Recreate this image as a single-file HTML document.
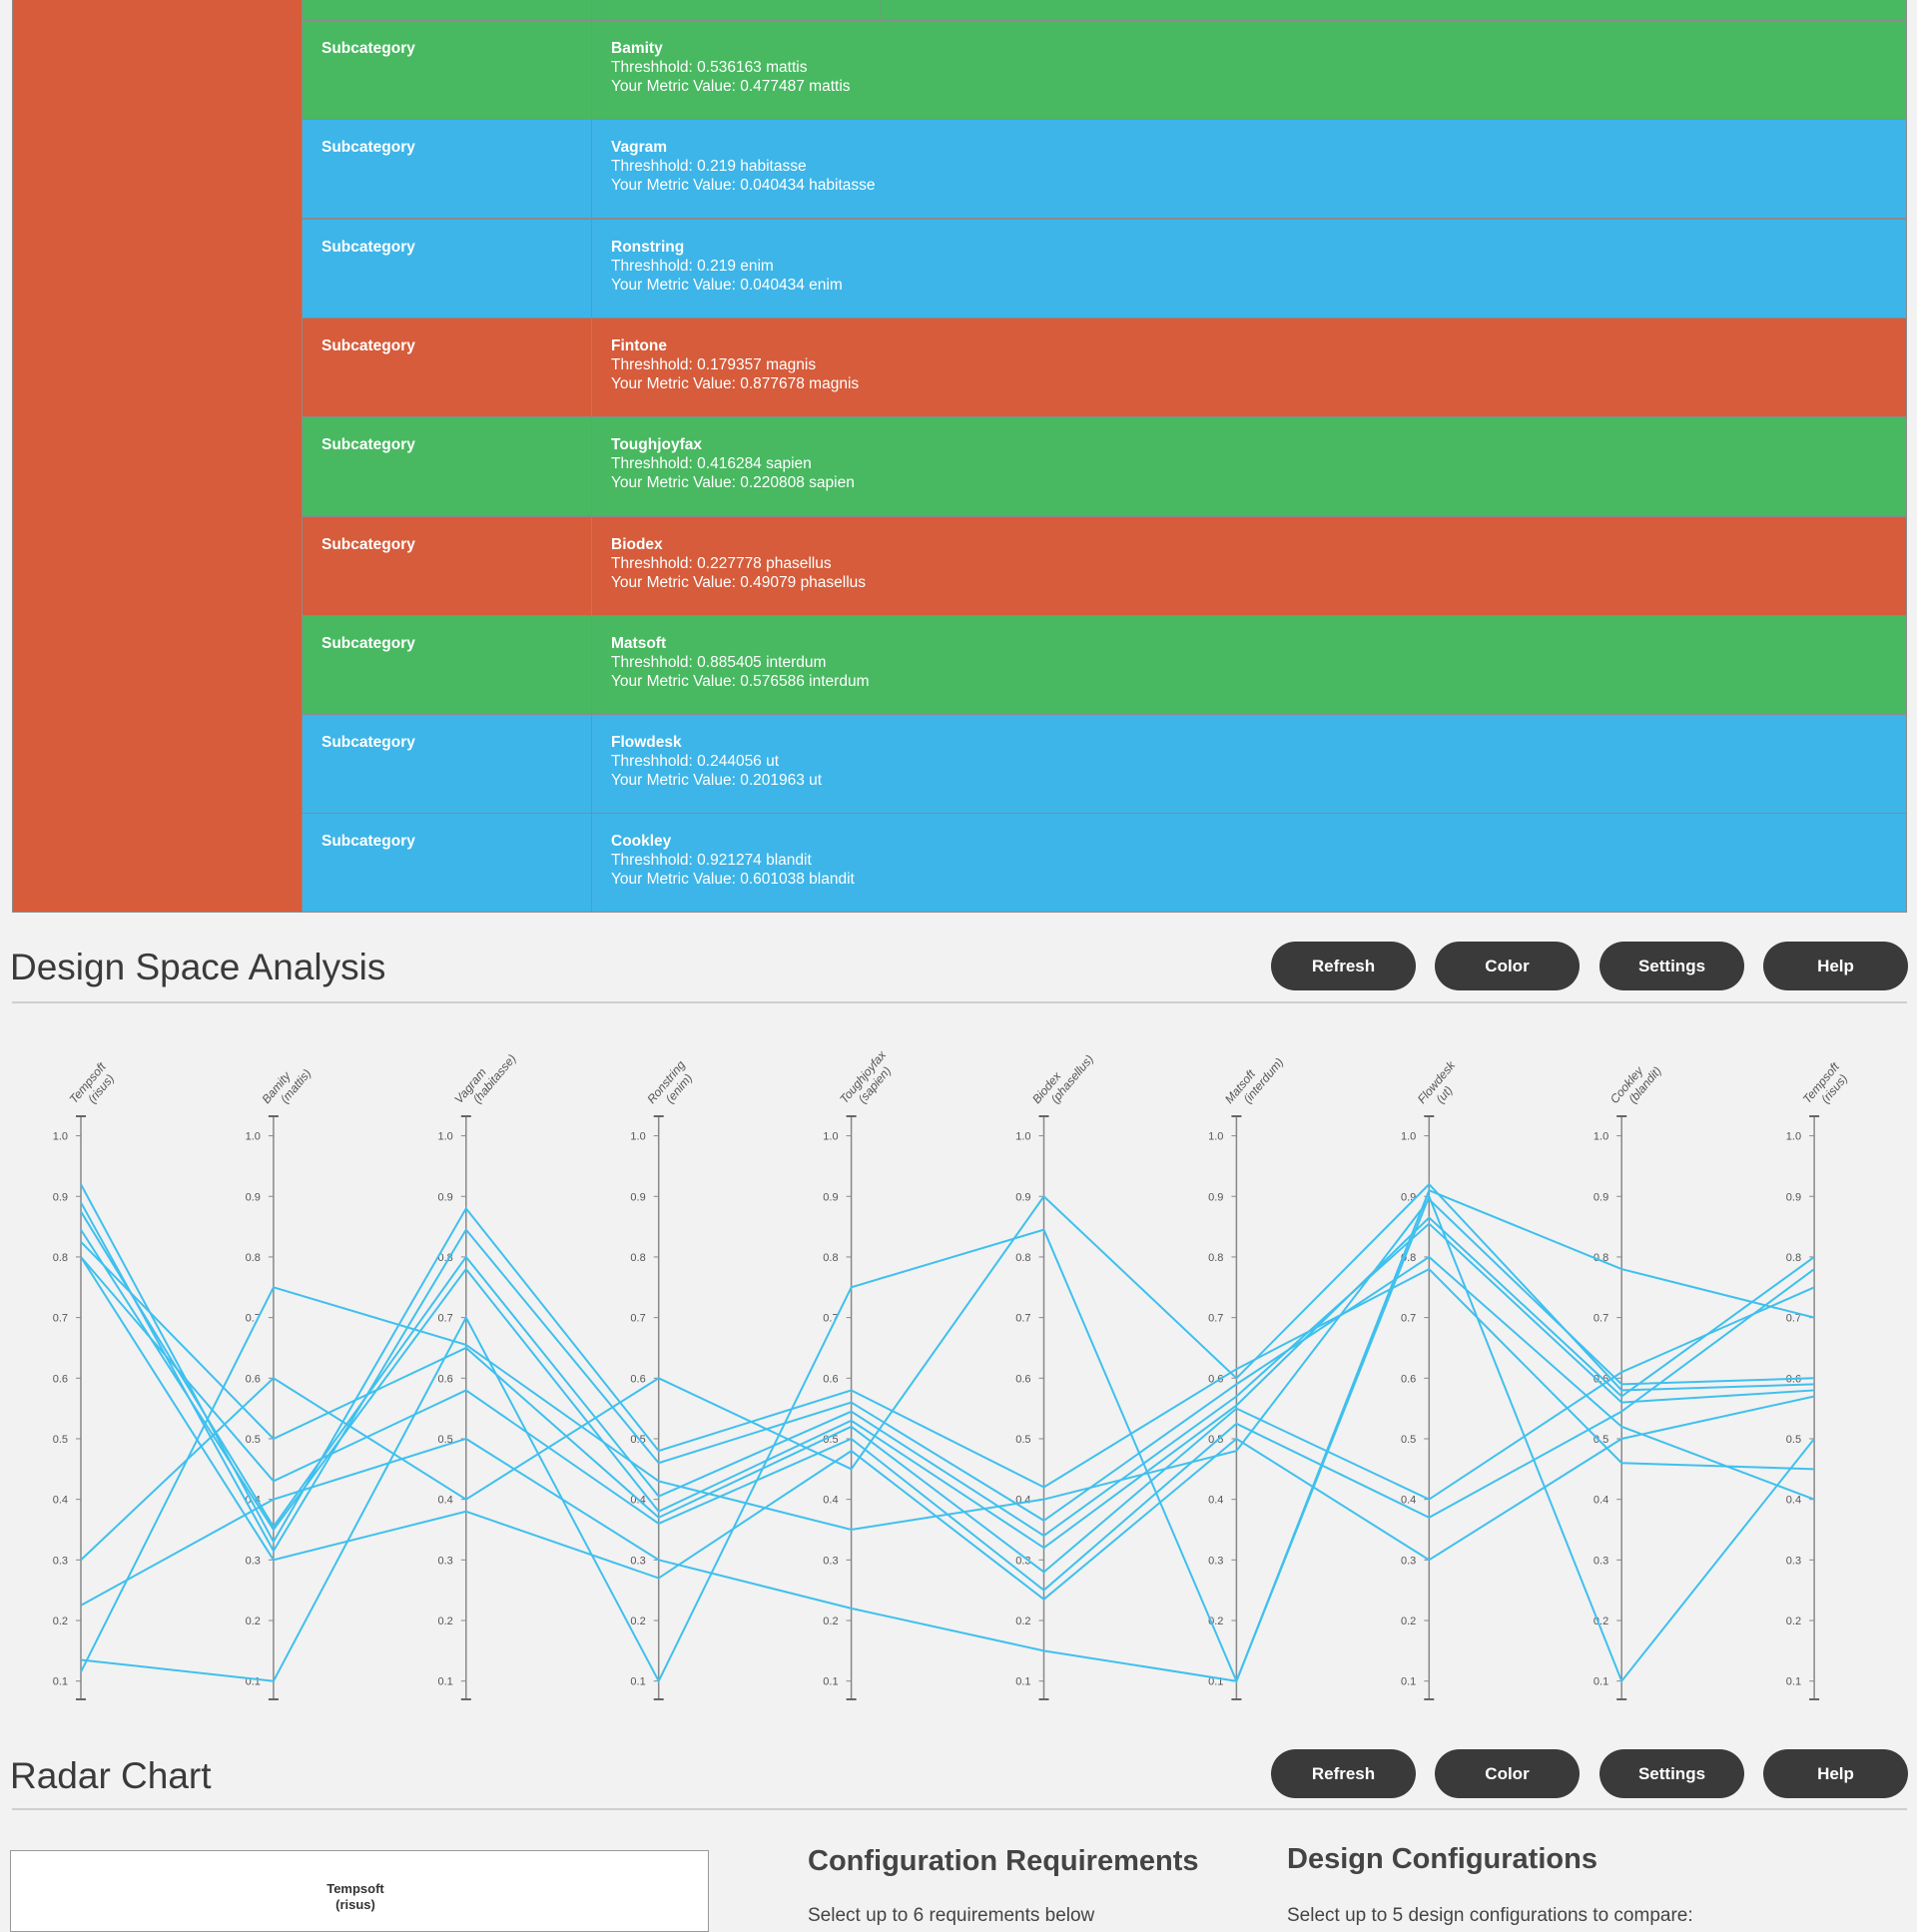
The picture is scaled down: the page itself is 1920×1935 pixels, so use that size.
<!DOCTYPE html>
<html><head><meta charset="utf-8">
<style>
html,body{margin:0;padding:0;background:#f2f2f2;width:1920px;height:1920px;overflow:hidden;font-family:"Liberation Sans",sans-serif;}
.abs{position:absolute;}
.cell{position:absolute;box-sizing:border-box;border:1px solid #8a8a8a;color:#fff;font-size:15.5px;line-height:19px;padding:18px 0 0 19px;}
.cell b{font-weight:bold;}
.btn{position:absolute;width:145px;height:49px;border-radius:25px;background:#3a3a3a;color:#fff;font-weight:bold;font-size:17px;text-align:center;line-height:49px;}
h2{position:absolute;margin:0;font-weight:normal;color:#3a3a3a;}
.hr{position:absolute;left:12px;width:1898px;height:2px;background:#cfcfcf;}
</style></head><body>
<div id="table">
<div class="cell" style="left:12px;top:-2px;width:291px;height:916px;background:#d65c3b"></div>
<div class="cell" style="left:302px;top:-2px;width:291px;height:23px;background:#48b961"></div>
<div class="cell" style="left:592px;top:-2px;width:291px;height:23px;background:#48b961"></div>
<div class="cell" style="left:882px;top:-2px;width:1028px;height:23px;background:#48b961"></div>
</div>
<script>
const rows=[["Bamity","0.536163","0.477487","mattis","#48b961"],["Vagram","0.219","0.040434","habitasse","#3db5e8"],["Ronstring","0.219","0.040434","enim","#3db5e8"],["Fintone","0.179357","0.877678","magnis","#d65c3b"],["Toughjoyfax","0.416284","0.220808","sapien","#48b961"],["Biodex","0.227778","0.49079","phasellus","#d65c3b"],["Matsoft","0.885405","0.576586","interdum","#48b961"],["Flowdesk","0.244056","0.201963","ut","#3db5e8"],["Cookley","0.921274","0.601038","blandit","#3db5e8"]];
const T=document.getElementById('table');
rows.forEach((r,i)=>{
 const top=20+i*99.3;
 const a=document.createElement('div');a.className='cell';
 
 
 a.style.cssText=`left:302px;top:${top}px;width:291px;height:100px;background:${r[4]}`;
 a.innerHTML='<b>Subcategory</b>';T.appendChild(a);
 const b=document.createElement('div');b.className='cell';
 
 
 b.style.cssText=`left:592px;top:${top}px;width:1318px;height:100px;background:${r[4]}`;
 b.innerHTML=`<b>${r[0]}</b><br>Threshhold: ${r[1]} ${r[3]}<br>Your Metric Value: ${r[2]} ${r[3]}`;T.appendChild(b);
});
</script>

<h2 style="left:10px;top:948px;font-size:37px">Design Space Analysis</h2>
<div class="btn" style="left:1273px;top:943px">Refresh</div>
<div class="btn" style="left:1437px;top:943px">Color</div>
<div class="btn" style="left:1602px;top:943px">Settings</div>
<div class="btn" style="left:1766px;top:943px">Help</div>
<div class="hr" style="top:1003px"></div>

<svg id="pc" class="abs" style="left:0;top:0" width="1920" height="1920"></svg>
<script>
const dims=["Tempsoft","Bamity","Vagram","Ronstring","Toughjoyfax","Biodex","Matsoft","Flowdesk","Cookley","Tempsoft"];
const units=["risus","mattis","habitasse","enim","sapien","phasellus","interdum","ut","blandit","risus"];
const ticks=[0.1,0.2,0.3,0.4,0.5,0.6,0.7,0.8,0.9,1.0];
const L1=[0.135,0.10,0.70,0.10,0.75,0.845,0.10,0.90,0.10,0.50];
const L2=[0.115,0.75,0.655,0.43,0.35,0.40,0.48,0.895,0.59,0.60];
const L3=[0.30,0.60,0.40,0.60,0.45,0.90,0.60,0.92,0.58,0.59];
const L4=[0.225,0.40,0.50,0.30,0.22,0.15,0.10,0.91,0.78,0.70];
const L5=[0.92,0.33,0.88,0.48,0.58,0.42,0.615,0.78,0.46,0.45];
const L6=[0.89,0.315,0.845,0.46,0.56,0.365,0.59,0.80,0.52,0.40];
const L7=[0.875,0.355,0.80,0.405,0.545,0.34,0.57,0.855,0.56,0.58];
const L8=[0.845,0.35,0.78,0.38,0.53,0.32,0.555,0.865,0.57,0.80];
const L9=[0.825,0.50,0.65,0.37,0.52,0.28,0.55,0.40,0.61,0.75];
const L10=[0.80,0.43,0.58,0.36,0.50,0.25,0.525,0.37,0.545,0.78];
const L11=[0.80,0.30,0.38,0.27,0.48,0.235,0.50,0.30,0.50,0.57];
const series=[L1,L2,L3,L4,L5,L6,L7,L8,L9,L10,L11];
const NS='http://www.w3.org/2000/svg';
const svg=document.getElementById('pc');
const xs=i=>81+i*192.9;
const ys=v=>1683.7-(v-0.1)*606.8;
function mk(t,a){const e=document.createElementNS(NS,t);for(const k in a)e.setAttribute(k,a[k]);svg.appendChild(e);return e;}
dims.forEach((d,i)=>{
 const x=xs(i);
 const ax=mk('line',{x1:x,x2:x,y1:1118,y2:1702,stroke:'#888','stroke-width':1.5});
 
 
 mk('line',{x1:x-5,x2:x+5,y1:1118,y2:1118,stroke:'#666','stroke-width':2});
 mk('line',{x1:x-5,x2:x+5,y1:1702,y2:1702,stroke:'#666','stroke-width':2});
 ticks.forEach(t=>{
  mk('line',{x1:x-5,x2:x,y1:ys(t),y2:ys(t),stroke:'#888','stroke-width':1});
  const tl=mk('text',{x:x-13,y:ys(t)+4,'text-anchor':'end','font-size':11,fill:'#555','font-family':'Liberation Sans, sans-serif'});
  tl.textContent=t.toFixed(1);
  
  
 });
 const g=mk('text',{transform:`translate(${x-6},${1106}) rotate(-50)`,'font-size':12,'font-style':'italic',fill:'#555','font-family':'Liberation Sans, sans-serif'});
 
 
 g.innerHTML=`<tspan x="0" y="0">${d}</tspan><tspan x="12" y="14">(${units[i]})</tspan>`;
});
series.forEach((s,j)=>{
 const p=mk('polyline',{points:s.map((v,i)=>xs(i)+','+ys(v)).join(' '),fill:'none',stroke:'#3fc0ee','stroke-width':2});
 
 
});
</script>

<h2 style="left:10px;top:1758px;font-size:37px">Radar Chart</h2>
<div class="btn" style="left:1273px;top:1752px">Refresh</div>
<div class="btn" style="left:1437px;top:1752px">Color</div>
<div class="btn" style="left:1602px;top:1752px">Settings</div>
<div class="btn" style="left:1766px;top:1752px">Help</div>
<div class="hr" style="top:1811px"></div>
<div class="abs" style="left:10px;top:1853px;width:698px;height:80px;background:#fff;border:1px solid #999;">
 <div class="abs" style="left:0;width:690px;top:30px;text-align:center;font-size:13px;font-weight:bold;color:#333;line-height:16px">Tempsoft<br>(risus)</div>
</div>
<h2 style="left:809px;top:1848px;font-size:29px;font-weight:bold;color:#444">Configuration Requirements</h2>
<div class="abs" style="left:809px;top:1908px;font-size:19px;color:#444">Select up to 6 requirements below</div>
<h2 style="left:1289px;top:1846px;font-size:29px;font-weight:bold;color:#444">Design Configurations</h2>
<div class="abs" style="left:1289px;top:1908px;font-size:19px;color:#444">Select up to 5 design configurations to compare:</div>
</body></html>
